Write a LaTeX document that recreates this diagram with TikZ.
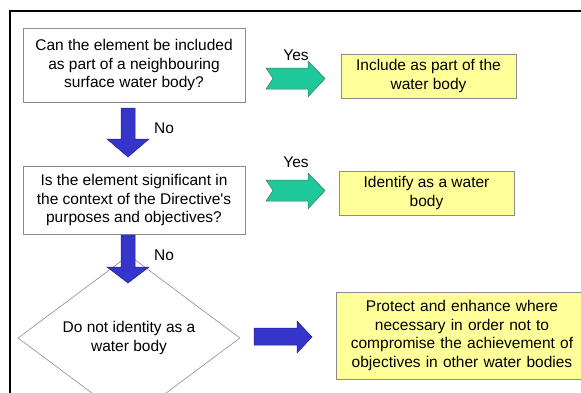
\documentclass[tikz,border=0pt]{standalone}
\usepackage{fontspec}
\setmainfont{Liberation Sans}
\usetikzlibrary{shapes.geometric}
\definecolor{boxgray}{HTML}{8C8C8C}
\definecolor{yel}{HTML}{FFFF99}
\definecolor{blu}{HTML}{3535CC}
\definecolor{bludark}{HTML}{20208C}
\definecolor{grn}{HTML}{1DC99B}
\definecolor{grnline}{HTML}{4F6F66}
\begin{document}
\begin{tikzpicture}[x=1pt,y=-1pt,
  qbox/.style={draw=boxgray, line width=0.8pt, fill=white, align=center, inner sep=0pt,
    font=\fontsize{15.5}{18.5}\selectfont},
  ybox/.style={qbox, fill=yel},
  bluearrow/.style={fill=blu, draw=bludark, line width=0.5pt, line join=miter},
  greenarrow/.style={fill=grn, draw=grnline, line width=0.5pt, line join=miter},
  lbl/.style={font=\fontsize{15.5}{18}\selectfont, inner sep=0pt}]
\useasboundingbox (0,0) rectangle (581,392);
\clip (0,0) rectangle (581,392);
% outer frame
\draw[line width=1.2pt] (10,600) -- (10,11) -- (700,11);
% question boxes
\node[qbox, minimum width=222pt, minimum height=74pt] (q1) at (134,65)
  {Can the element be included\\as part of a neighbouring\\surface water body?};
\node[qbox, minimum width=222pt, minimum height=68pt] (q2) at (134,200)
  {Is the element significant in\\the context of the Directive\textquotesingle s\\purposes and objectives?};
\node[draw=boxgray, line width=0.6pt, shape=diamond, minimum width=222pt, minimum height=110pt,
  inner sep=0pt, align=center, font=\fontsize{15.5}{18.5}\selectfont] (d) at (129,338)
  {Do not identity as a\\water body};
% answer boxes
\node[ybox, minimum width=175pt, minimum height=44pt] (a1) at (428.5,76)
  {Include as part of the\\water body};
\node[ybox, minimum width=175pt, minimum height=44pt] (a2) at (426.5,193)
  {Identify as a water\\body};
\node[ybox, minimum width=252pt, minimum height=87pt, text width=250pt] (a3) at (462,335.5)
  {Protect and enhance where\\necessary in order not to\\compromise the achievement of\\objectives in other water bodies};
% green arrows (Yes)
\draw[greenarrow] (266,68) -- (308,68) -- (308,61) -- (325,78.5) -- (308,97) -- (308,89)
  -- (266,89) -- (273,78.5) -- cycle;
\draw[greenarrow, shift={(0,112)}] (266,68) -- (308,68) -- (308,61) -- (325,78.5) -- (308,97)
  -- (308,89) -- (266,89) -- (273,78.5) -- cycle;
\node[lbl] (y1) at (296,55) {Yes};
\node[lbl] (y2) at (296,162) {Yes};
% blue arrows (No)
\draw[bluearrow] (121,108) -- (135,108) -- (135,139) -- (149,139) -- (128,157) -- (107,139)
  -- (121,139) -- cycle;
\draw[bluearrow] (121,235) -- (135,235) -- (135,267) -- (149,267) -- (128,283) -- (107,267)
  -- (121,267) -- cycle;
\node[lbl] (n1) at (164,128) {No};
\node[lbl] (n2) at (164,255) {No};
% blue arrow to final box
\draw[bluearrow] (254,328) -- (297,328) -- (297,321) -- (312,337) -- (297,353) -- (297,345)
  -- (254,345) -- cycle;
\end{tikzpicture}
\end{document}
